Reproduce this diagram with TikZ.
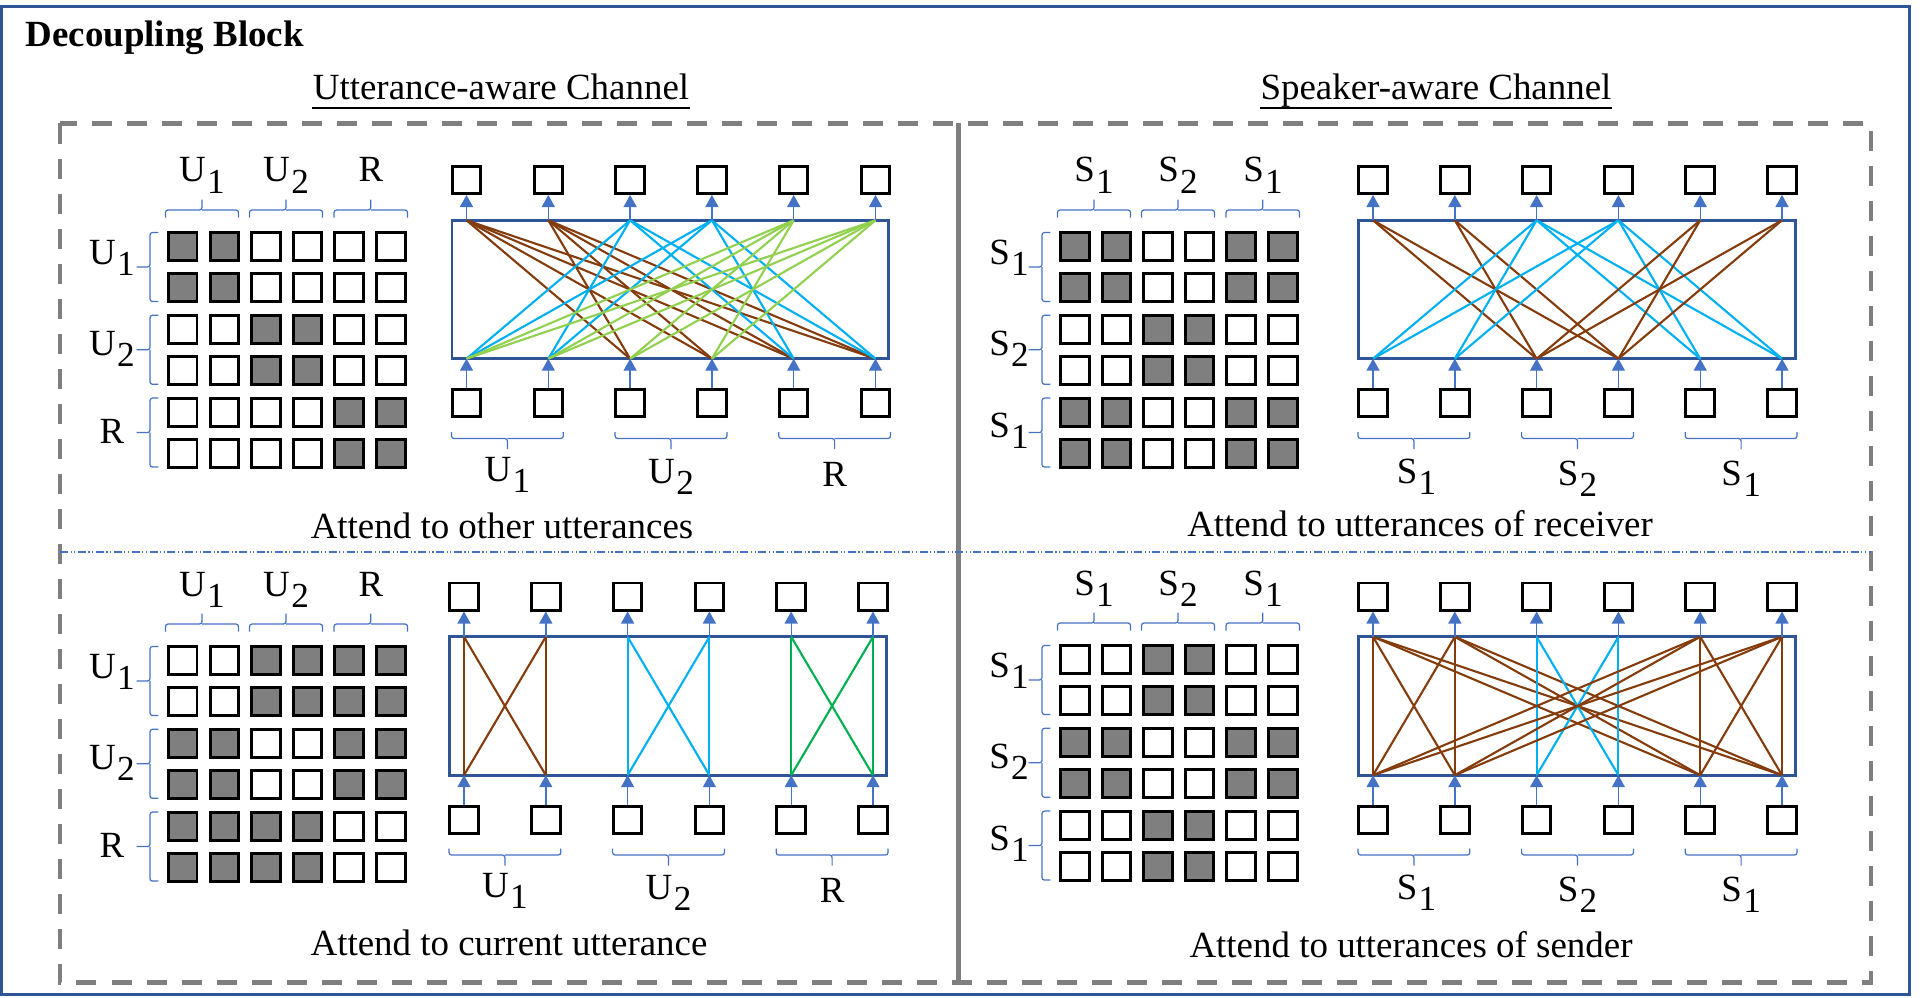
\documentclass[tikz,border=0pt]{standalone}
\usepackage{fontspec}
\setmainfont{Liberation Serif}
\usetikzlibrary{arrows.meta}

\definecolor{frameblue}{HTML}{2F5597}
\definecolor{arrblue}{HTML}{4472C4}
\definecolor{maskgray}{HTML}{7F7F7F}
\definecolor{brownc}{HTML}{843C0C}
\definecolor{cyanc}{HTML}{00B0F0}
\definecolor{limec}{HTML}{92D050}
\definecolor{greenc}{HTML}{00B050}

\newcommand{\lblsub}[2]{#1\kern0.4pt\raisebox{-3.2pt}{\fontsize{10}{10}\selectfont #2}}

\tikzset{
  cell/.style={draw=black, line width=0.85pt},
  tokbox/.style={draw=black, fill=white, line width=0.85pt, minimum width=0.285cm, minimum height=0.27cm, inner sep=0pt},
  attbox/.style={draw=frameblue, line width=0.8pt},
  attline/.style={line width=0.6pt},
  flow/.style={draw=arrblue, line width=0.4pt, -{Triangle[width=0.13cm,length=0.12cm]}},
  grp/.style={draw=arrblue, line width=0.35pt, rounded corners=0.025cm},
  lbl/.style={anchor=base, inner sep=0pt},
}

\begin{document}
\begin{tikzpicture}[x=0.01cm, y=-0.01cm, font=\fontsize{10.5}{12.6}\selectfont]
  \useasboundingbox (0,0) rectangle (1925,997);
  \draw[frameblue, line width=0.85pt] (1.5,6.7) rectangle (1909.5,994.5);
  \node[lbl, anchor=base west, font=\fontsize{10.5}{12.6}\selectfont\bfseries] (blocktitle) at (25,47) {Decoupling Block};

  \node[lbl] (utttitle) at (501,100) {Utterance-aware Channel};
  \draw[line width=0.6pt] ([yshift=-0.08cm]utttitle.base west) -- ([yshift=-0.08cm]utttitle.base east);
  \node[lbl] (spktitle) at (1436,100) {Speaker-aware Channel};
  \draw[line width=0.6pt] ([yshift=-0.08cm]spktitle.base west) -- ([yshift=-0.08cm]spktitle.base east);

  \draw[maskgray, line width=1.3pt, dash pattern=on 0.2cm off 0.15cm] (60,123.5) rectangle (1871,982.5);
  \draw[maskgray, line width=1.4pt] (958.5,123.5) -- (958.5,982.5);
  \draw[arrblue, line width=0.35pt, dash pattern=on 0.08cm off 0.025cm on 0.012cm off 0.025cm on 0.012cm off 0.025cm] (60,552) -- (1871,552);

  \node[lbl] (capother) at (502,538) {Attend to other utterances};
  \node[lbl] (capcur) at (509,955) {Attend to current utterance};
  \node[lbl] (caprecv) at (1420,536) {Attend to utterances of receiver};
  \node[lbl] (capsend) at (1411,957) {Attend to utterances of sender};

  % other utterances: mask
  \foreach \i/\gi in {1/1,2/1,3/2,4/2,5/3,6/3}
    \foreach \j/\gj in {1/1,2/1,3/2,4/2,5/3,6/3}
    {
      \ifnum\gi=\gj\relax \def\fc{maskgray}\else\def\fc{white}\fi
      \filldraw[cell, fill=\fc] ({168.5+41.6*(\j-1)},{232.5+41.4*(\i-1)}) rectangle +(28.5,28);
    }
  \foreach \xa/\xb in {165.5/238.5, 249.5/322.5, 334/407.5}
  {
    \draw[grp] (\xa,217.5) |- ({(\xa+\xb)/2},210) -- ++(0,-10.5);
    \draw[grp] (\xb,217.5) |- ({(\xa+\xb)/2},210);
  }
  \foreach \ya/\yb in {232.5/301.5, 315.3/384.3, 398.1/467.1}
  {
    \draw[grp] (158.3,\ya) -| (150,{(\ya+\yb)/2}) -- ++(-13.3,0);
    \draw[grp] (158.3,\yb) -| (150,{(\ya+\yb)/2});
  }
  \node[lbl] (ul-c1) at (202,182) {\lblsub{U}{1}};
  \node[lbl] (ul-c2) at (286,182) {\lblsub{U}{2}};
  \node[lbl] (ul-c3) at (371,182) {R};
  \node[lbl] (ul-r1) at (112,264) {\lblsub{U}{1}};
  \node[lbl] (ul-r2) at (112,355) {\lblsub{U}{2}};
  \node[lbl] (ul-r3) at (112,443) {R};

  % other utterances: attention
  \foreach \k in {1,...,6}
  {
    \node[tokbox] (ul-o\k) at ({384.7+81.8*\k},180) {};
    \node[tokbox] (ul-i\k) at ({384.7+81.8*\k},403.3) {};
    \coordinate (ul-t\k) at ({384.7+81.8*\k},220.3);
    \coordinate (ul-b\k) at ({384.7+81.8*\k},358.7);
  }
  \draw[attbox] (452,220.3) rectangle (888.7,358.7);
  \foreach \k/\gk/\ck in {1/1/brownc,2/1/brownc,3/2/cyanc,4/2/cyanc,5/3/limec,6/3/limec}
    \foreach \m/\gm in {1/1,2/1,3/2,4/2,5/3,6/3}
    {
      \ifnum\gk=\gm\relax\else\draw[attline, draw=\ck] (ul-t\k) -- (ul-b\m);\fi
    }
  \foreach \k in {1,...,6}
  {
    \draw[flow] (ul-i\k.north) -- (ul-b\k);
    \draw[flow] (ul-t\k) -- (ul-o\k.south);
  }
  \foreach \xa/\xb in {451.5/563.3, 615.1/726.9, 778.7/890.5}
  {
    \draw[grp] (\xa,432) |- ({(\xa+\xb)/2},438.5) -- ++(0,10.5);
    \draw[grp] (\xb,432) |- ({(\xa+\xb)/2},438.5);
  }
  \node[lbl] (ul-g1) at (507.4,481) {\lblsub{U}{1}};
  \node[lbl] (ul-g2) at (671,483) {\lblsub{U}{2}};
  \node[lbl] (ul-g3) at (834.6,486) {R};

  % current utterance: mask
  \begin{scope}[shift={(0,414)}]
    \foreach \i/\gi in {1/1,2/1,3/2,4/2,5/3,6/3}
      \foreach \j/\gj in {1/1,2/1,3/2,4/2,5/3,6/3}
      {
        \ifnum\gi=\gj\relax \def\fc{white}\else\def\fc{maskgray}\fi
        \filldraw[cell, fill=\fc] ({168.5+41.6*(\j-1)},{232.5+41.4*(\i-1)}) rectangle +(28.5,28);
      }
    \foreach \xa/\xb in {165.5/238.5, 249.5/322.5, 334/407.5}
    {
      \draw[grp] (\xa,217.5) |- ({(\xa+\xb)/2},210) -- ++(0,-10.5);
      \draw[grp] (\xb,217.5) |- ({(\xa+\xb)/2},210);
    }
    \foreach \ya/\yb in {232.5/301.5, 315.3/384.3, 398.1/467.1}
    {
      \draw[grp] (158.3,\ya) -| (150,{(\ya+\yb)/2}) -- ++(-13.3,0);
      \draw[grp] (158.3,\yb) -| (150,{(\ya+\yb)/2});
    }
    \node[lbl] (ll-c1) at (202,182) {\lblsub{U}{1}};
    \node[lbl] (ll-c2) at (286,182) {\lblsub{U}{2}};
    \node[lbl] (ll-c3) at (371,182) {R};
    \node[lbl] (ll-r1) at (112,264) {\lblsub{U}{1}};
    \node[lbl] (ll-r2) at (112,355) {\lblsub{U}{2}};
    \node[lbl] (ll-r3) at (112,443) {R};
  \end{scope}

  % current utterance: attention
  \begin{scope}[shift={(-2.5,416.5)}]
    \foreach \k in {1,...,6}
    {
      \node[tokbox] (ll-o\k) at ({384.7+81.8*\k},180) {};
      \node[tokbox] (ll-i\k) at ({384.7+81.8*\k},403.3) {};
      \coordinate (ll-t\k) at ({384.7+81.8*\k},220.3);
      \coordinate (ll-b\k) at ({384.7+81.8*\k},358.7);
    }
    \draw[attbox] (452,220.3) rectangle (888.7,358.7);
    \foreach \k/\gk/\ck in {1/1/brownc,2/1/brownc,3/2/cyanc,4/2/cyanc,5/3/greenc,6/3/greenc}
      \foreach \m/\gm in {1/1,2/1,3/2,4/2,5/3,6/3}
      {
        \ifnum\gk=\gm\relax\draw[attline, draw=\ck] (ll-t\k) -- (ll-b\m);\fi
      }
    \foreach \k in {1,...,6}
    {
      \draw[flow] (ll-i\k.north) -- (ll-b\k);
      \draw[flow] (ll-t\k) -- (ll-o\k.south);
    }
    \foreach \xa/\xb in {451.5/563.3, 615.1/726.9, 778.7/890.5}
    {
      \draw[grp] (\xa,432) |- ({(\xa+\xb)/2},438.5) -- ++(0,10.5);
      \draw[grp] (\xb,432) |- ({(\xa+\xb)/2},438.5);
    }
    \node[lbl] (ll-g1) at (507.4,481) {\lblsub{U}{1}};
    \node[lbl] (ll-g2) at (671,483) {\lblsub{U}{2}};
    \node[lbl] (ll-g3) at (834.6,486) {R};
  \end{scope}

  % receiver: mask
  \begin{scope}[shift={(892,0)}]
    \foreach \i/\gi in {1/1,2/1,3/2,4/2,5/1,6/1}
      \foreach \j/\gj in {1/1,2/1,3/2,4/2,5/1,6/1}
      {
        \ifnum\gi=\gj\relax \def\fc{maskgray}\else\def\fc{white}\fi
        \filldraw[cell, fill=\fc] ({168.5+41.6*(\j-1)},{232.5+41.4*(\i-1)}) rectangle +(28.5,28);
      }
    \foreach \xa/\xb in {165.5/238.5, 249.5/322.5, 334/407.5}
    {
      \draw[grp] (\xa,217.5) |- ({(\xa+\xb)/2},210) -- ++(0,-10.5);
      \draw[grp] (\xb,217.5) |- ({(\xa+\xb)/2},210);
    }
    \foreach \ya/\yb in {232.5/301.5, 315.3/384.3, 398.1/467.1}
    {
      \draw[grp] (158.3,\ya) -| (150,{(\ya+\yb)/2}) -- ++(-13.3,0);
      \draw[grp] (158.3,\yb) -| (150,{(\ya+\yb)/2});
    }
    \node[lbl] (ur-c1) at (202,182) {\lblsub{S}{1}};
    \node[lbl] (ur-c2) at (286,182) {\lblsub{S}{2}};
    \node[lbl] (ur-c3) at (371,182) {\lblsub{S}{1}};
    \node[lbl] (ur-r1) at (117,264) {\lblsub{S}{1}};
    \node[lbl] (ur-r2) at (117,355) {\lblsub{S}{2}};
    \node[lbl] (ur-r3) at (117,437) {\lblsub{S}{1}};
  \end{scope}

  % receiver: attention
  \begin{scope}[shift={(906.5,0)}]
    \foreach \k in {1,...,6}
    {
      \node[tokbox] (ur-o\k) at ({384.7+81.8*\k},180) {};
      \node[tokbox] (ur-i\k) at ({384.7+81.8*\k},403.3) {};
      \coordinate (ur-t\k) at ({384.7+81.8*\k},220.3);
      \coordinate (ur-b\k) at ({384.7+81.8*\k},358.7);
    }
    \draw[attbox] (452,220.3) rectangle (888.7,358.7);
    \foreach \k/\gk/\ck in {1/1/brownc,2/1/brownc,3/2/cyanc,4/2/cyanc,5/1/brownc,6/1/brownc}
      \foreach \m/\gm in {1/1,2/1,3/2,4/2,5/1,6/1}
      {
        \ifnum\gk=\gm\relax\else\draw[attline, draw=\ck] (ur-t\k) -- (ur-b\m);\fi
      }
    \foreach \k in {1,...,6}
    {
      \draw[flow] (ur-i\k.north) -- (ur-b\k);
      \draw[flow] (ur-t\k) -- (ur-o\k.south);
    }
    \foreach \xa/\xb in {451.5/563.3, 615.1/726.9, 778.7/890.5}
    {
      \draw[grp] (\xa,432) |- ({(\xa+\xb)/2},438.5) -- ++(0,10.5);
      \draw[grp] (\xb,432) |- ({(\xa+\xb)/2},438.5);
    }
    \node[lbl] (ur-g1) at (510,483) {\lblsub{S}{1}};
    \node[lbl] (ur-g2) at (671,485) {\lblsub{S}{2}};
    \node[lbl] (ur-g3) at (834.6,485) {\lblsub{S}{1}};
  \end{scope}

  % sender: mask
  \begin{scope}[shift={(892,413)}]
    \foreach \i/\gi in {1/1,2/1,3/2,4/2,5/1,6/1}
      \foreach \j/\gj in {1/1,2/1,3/2,4/2,5/1,6/1}
      {
        \ifnum\gi=\gj\relax \def\fc{white}\else\def\fc{maskgray}\fi
        \filldraw[cell, fill=\fc] ({168.5+41.6*(\j-1)},{232.5+41.4*(\i-1)}) rectangle +(28.5,28);
      }
    \foreach \xa/\xb in {165.5/238.5, 249.5/322.5, 334/407.5}
    {
      \draw[grp] (\xa,217.5) |- ({(\xa+\xb)/2},210) -- ++(0,-10.5);
      \draw[grp] (\xb,217.5) |- ({(\xa+\xb)/2},210);
    }
    \foreach \ya/\yb in {232.5/301.5, 315.3/384.3, 398.1/467.1}
    {
      \draw[grp] (158.3,\ya) -| (150,{(\ya+\yb)/2}) -- ++(-13.3,0);
      \draw[grp] (158.3,\yb) -| (150,{(\ya+\yb)/2});
    }
    \node[lbl] (lr-c1) at (202,182) {\lblsub{S}{1}};
    \node[lbl] (lr-c2) at (286,182) {\lblsub{S}{2}};
    \node[lbl] (lr-c3) at (371,182) {\lblsub{S}{1}};
    \node[lbl] (lr-r1) at (117,264) {\lblsub{S}{1}};
    \node[lbl] (lr-r2) at (117,355) {\lblsub{S}{2}};
    \node[lbl] (lr-r3) at (117,437) {\lblsub{S}{1}};
  \end{scope}

  % sender: attention
  \begin{scope}[shift={(906.5,416.5)}]
    \foreach \k in {1,...,6}
    {
      \node[tokbox] (lr-o\k) at ({384.7+81.8*\k},180) {};
      \node[tokbox] (lr-i\k) at ({384.7+81.8*\k},403.3) {};
      \coordinate (lr-t\k) at ({384.7+81.8*\k},220.3);
      \coordinate (lr-b\k) at ({384.7+81.8*\k},358.7);
    }
    \draw[attbox] (452,220.3) rectangle (888.7,358.7);
    \foreach \k/\gk/\ck in {1/1/brownc,2/1/brownc,3/2/cyanc,4/2/cyanc,5/1/brownc,6/1/brownc}
      \foreach \m/\gm in {1/1,2/1,3/2,4/2,5/1,6/1}
      {
        \ifnum\gk=\gm\relax\draw[attline, draw=\ck] (lr-t\k) -- (lr-b\m);\fi
      }
    \foreach \k in {1,...,6}
    {
      \draw[flow] (lr-i\k.north) -- (lr-b\k);
      \draw[flow] (lr-t\k) -- (lr-o\k.south);
    }
    \foreach \xa/\xb in {451.5/563.3, 615.1/726.9, 778.7/890.5}
    {
      \draw[grp] (\xa,432) |- ({(\xa+\xb)/2},438.5) -- ++(0,10.5);
      \draw[grp] (\xb,432) |- ({(\xa+\xb)/2},438.5);
    }
    \node[lbl] (lr-g1) at (510,483) {\lblsub{S}{1}};
    \node[lbl] (lr-g2) at (671,485) {\lblsub{S}{2}};
    \node[lbl] (lr-g3) at (834.6,485) {\lblsub{S}{1}};
  \end{scope}
\end{tikzpicture}
\end{document}
